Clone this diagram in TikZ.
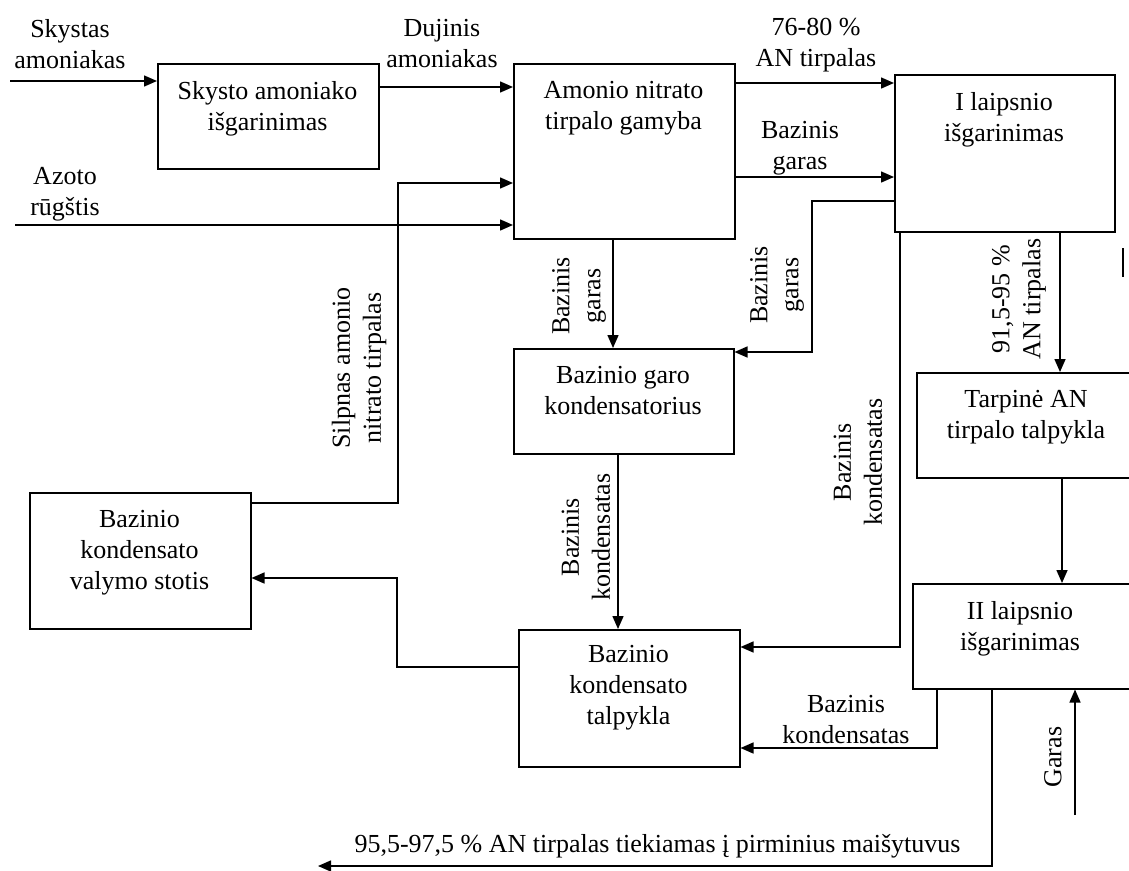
\documentclass[tikz,border=0pt]{standalone}
\usepackage{fontspec}
\setmainfont{Liberation Serif}
\usetikzlibrary{arrows.meta}
\tikzset{
  box/.style={draw, line width=1.5pt, rectangle, inner sep=0pt, anchor=north west},
  txt/.style={font=\fontsize{26}{31}\selectfont, align=center, inner sep=0pt},
  boxtxt/.style={txt, anchor=north},
  rlab/.style={txt, rotate=90},
  arr/.style={line width=1.5pt, -{Triangle[length=13pt,width=11pt]}},
  ln/.style={line width=1.5pt}
}
\begin{document}
\begin{tikzpicture}[x=1pt,y=1pt]
\useasboundingbox (0,0) rectangle (1129,-870);
\clip (0,0) rectangle (1129,-870);
% boxes
\node[box, minimum width=221pt, minimum height=105pt] (A) at (157,-63) {};
\node[box, minimum width=221pt, minimum height=175pt] (B) at (513,-63) {};
\node[box, minimum width=220pt, minimum height=157pt] (C) at (894,-74) {};
\node[box, minimum width=220pt, minimum height=105pt] (D) at (513,-348) {};
\node[box, minimum width=224pt, minimum height=105pt] (E) at (916,-372) {};
\node[box, minimum width=221pt, minimum height=136pt] (F) at (29,-492) {};
\node[box, minimum width=221pt, minimum height=137pt] (G) at (518,-629) {};
\node[box, minimum width=228pt, minimum height=105pt] (H) at (912,-583) {};
% box texts
\node[boxtxt] (At) at (267.5,-81) {Skysto amoniako\\išgarinimas};
\node[boxtxt] (Bt) at (623.5,-81) {Amonio nitrato\\tirpalo gamyba};
\node[boxtxt] (Ct) at (1004,-92) {I laipsnio\\išgarinimas};
\node[boxtxt] (Dt) at (623,-366) {Bazinio garo\\kondensatorius};
\node[boxtxt] (Et) at (1026,-390) {Tarpinė AN\\tirpalo talpykla};
\node[boxtxt] (Ft) at (139.5,-510) {Bazinio\\kondensato\\valymo stotis};
\node[boxtxt] (Gt) at (628.5,-645) {Bazinio\\kondensato\\talpykla};
\node[boxtxt] (Ht) at (1020,-601) {II laipsnio\\išgarinimas};
% labels
\node[txt] (l1) at (70,-44) {Skystas\\amoniakas};
\node[txt] (l2) at (442,-44) {Dujinis\\amoniakas};
\node[txt] (l3) at (65,-194) {Azoto\\rūgštis};
\node[txt] (l4) at (816,-45) {76-80 \%\\AN tirpalas};
\node[txt] (l5) at (800,-148) {Bazinis\\garas};
\node[rlab] (l6) at (359,-368) {Silpnas amonio\\nitrato tirpalas};
\node[rlab] (l7) at (579,-296) {Bazinis\\garas};
\node[rlab] (l8) at (777,-285) {Bazinis\\garas};
\node[rlab] (l9) at (586,-537) {Bazinis\\kondensatas};
\node[rlab] (l10) at (858,-462) {Bazinis\\kondensatas};
\node[rlab] (l11) at (1019,-299) {91,5-95 \%\\AN tirpalas};
\node[txt] (l12) at (846,-720) {Bazinis\\kondensatas};
\node[rlab] (l13) at (1053,-757) {Garas};
\node[txt] (l14) at (657.5,-846) {95,5-97,5 \% AN tirpalas tiekiamas į pirminius maišytuvus};
% free ends
\coordinate (inNH3) at (10,-81);
\coordinate (inHNO3) at (15,-225);
\coordinate (out) at (318,-866);
\coordinate (inSteam) at (1075,-815);
% connectors
\draw[arr] (inNH3) -- (inNH3 -| A.west);
\draw[arr] (A.east |- 0,-87) -- (B.west |- 0,-87);
\draw[arr] (inHNO3) -- (inHNO3 -| B.west);
\draw[arr] (F.east |- 0,-503) -| (398,-183) -- (B.west |- 0,-183);
\draw[arr] (B.east |- 0,-83) -- (C.west |- 0,-83);
\draw[arr] (B.east |- 0,-177) -- (C.west |- 0,-177);
\draw[arr] (B.south -| 613,0) -- (D.north -| 613,0);
\draw[arr] (C.west |- 0,-201) -| (812,-352) -- (D.east |- 0,-352);
\draw[arr] (C.south -| 900,0) |- (G.east |- 0,-647);
\draw[arr] (C.south -| 1060,0) -- (E.north -| 1060,0);
\draw[arr] (D.south -| 618,0) -- (G.north -| 618,0);
\draw[arr] (G.west |- 0,-667) -| (397,-578) -- (F.east |- 0,-578);
\draw[arr] (E.south -| 1062,0) -- (H.north -| 1062,0);
\draw[arr] (H.south -| 937,0) |- (G.east |- 0,-748);
\draw[arr] (H.south -| 992,0) |- (out);
\draw[arr] (inSteam) -- (H.south -| inSteam);
% stray mark
\draw[ln] (1123,-248) -- (1123,-277);
\end{tikzpicture}
\end{document}
